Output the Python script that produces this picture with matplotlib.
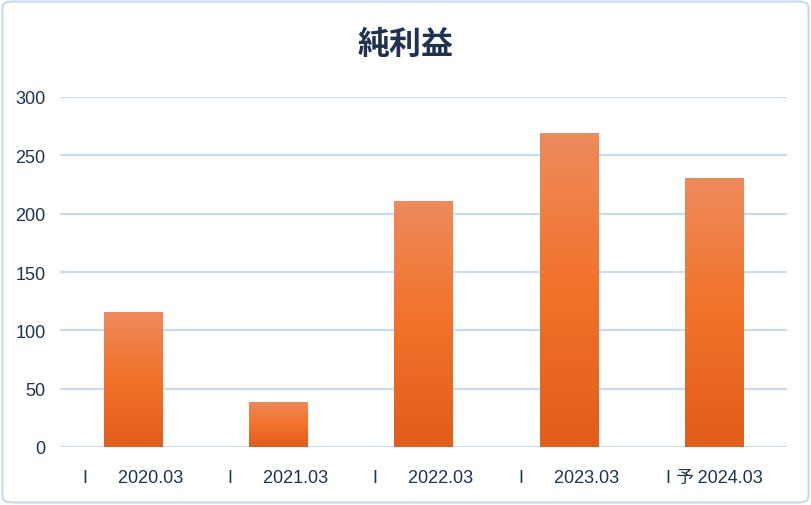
import numpy as np
import matplotlib.pyplot as plt
from matplotlib.patches import FancyBboxPatch
from matplotlib.colors import LinearSegmentedColormap

plt.rcParams['font.family'] = ['Liberation Sans', 'Noto Sans CJK JP']

# data
labels = ["I      2020.03", "I      2021.03", "I      2022.03", "I      2023.03", "I 予\u20092024.03"]
values = [116, 39, 211, 269, 231]
yticks = [0, 50, 100, 150, 200, 250, 300]

text_color = "#1F3350"
grid_color = "#C9DCF0"

fig = plt.figure(figsize=(8.11, 5.06), dpi=100)
ax = fig.add_axes([60 / 811, 58 / 506, 727 / 811, 350 / 506])

# rounded border round the figure
border = FancyBboxPatch((0.003, 0.005), 0.994, 0.99, boxstyle="round,pad=0,rounding_size=0.012",
                        transform=fig.transFigure, facecolor="white", edgecolor="#C5DAF0",
                        linewidth=1.5, zorder=-10)
fig.patches.append(border)

# bars with vertical gradient
cmap = LinearSegmentedColormap.from_list("bar", ["#E05D1A", "#F27229", "#EE8A5C"])
grad = np.linspace(0, 1, 256).reshape(-1, 1)
width = 0.4
x = np.arange(len(values))
bars = ax.bar(x, values, width=width, color="none", zorder=3)
for b in bars:
    x0, y0 = b.get_x(), b.get_y()
    w, h = b.get_width(), b.get_height()
    im = ax.imshow(grad, cmap=cmap, origin="lower", aspect="auto",
                   extent=[x0, x0 + w, y0, y0 + h], zorder=3)
    im.set_clip_path(b)

ax.set_xlim(-0.5, len(values) - 0.5)
ax.set_ylim(0, 300)
ax.set_yticks(yticks)
ax.set_xticks(x)
ax.set_xticklabels(labels)
ax.yaxis.grid(True, color=grid_color, linewidth=1.6, zorder=0)
ax.set_axisbelow(True)
for s in ax.spines.values():
    s.set_visible(False)
ax.tick_params(axis="both", length=0, colors=text_color, labelsize=13)
ax.tick_params(axis="x", pad=16)
ax.tick_params(axis="y", pad=10.5)
ax.set_facecolor("none")

fig.text(0.5, 0.912, "純利益", ha="center", va="center", fontsize=23, fontweight="bold",
         color=text_color, family=["Noto Sans CJK JP"])

fig.savefig("out.png", dpi=100)
